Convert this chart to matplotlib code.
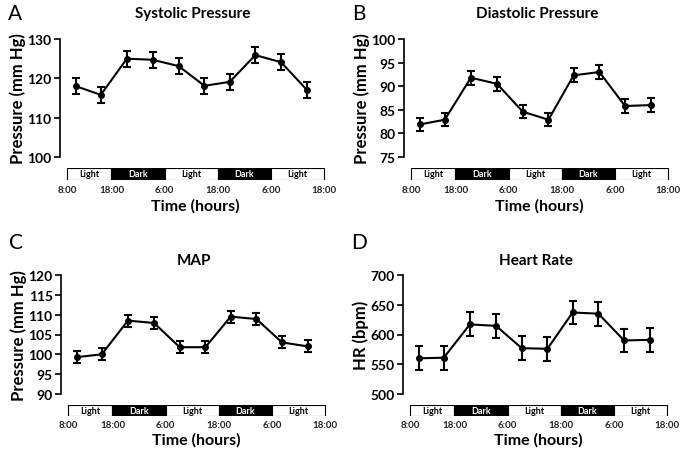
import matplotlib
matplotlib.use("Agg")
import matplotlib.pyplot as plt
from matplotlib.patches import Rectangle

plt.rcParams['font.family'] = ['Lato', 'DejaVu Sans']

# sample times (h after 8:00 on day 1) and light/dark schedule
hours = [2.0, 7.6, 13.5, 19.4, 25.2, 31.0, 36.7, 42.5, 48.3, 54.1]
phase_edges = [0, 10, 22, 34, 46, 58]
phase_names = ["Light", "Dark", "Light", "Dark", "Light"]
clock_labels = ["8:00", "18:00", "6:00", "18:00", "6:00", "18:00"]

sys_mean = [118, 115.8, 125, 124.7, 123.1, 118.1, 119.1, 125.9, 124.1, 117.1]
sys_err = [2, 2, 2, 2, 2, 2, 2, 2, 2, 2]
dia_mean = [81.9, 82.9, 91.8, 90.5, 84.6, 82.9, 92.3, 93.0, 85.8, 86.0]
dia_err = [1.4, 1.4, 1.5, 1.5, 1.4, 1.4, 1.5, 1.5, 1.5, 1.5]
map_mean = [99.3, 100.0, 108.5, 107.9, 101.8, 101.8, 109.5, 108.9, 103.0, 102.0]
map_err = [1.5, 1.5, 1.5, 1.5, 1.5, 1.5, 1.5, 1.5, 1.5, 1.5]
hr_mean = [560, 561, 617, 614.5, 577, 576, 637, 635, 590, 591]
hr_err = [20, 20, 20, 20, 20, 20, 20, 20, 20, 20]

panels = [
    ("A", "Systolic Pressure", "Pressure (mm Hg)", sys_mean, sys_err, (100, 130), [100, 110, 120, 130]),
    ("B", "Diastolic Pressure", "Pressure (mm Hg)", dia_mean, dia_err, (75, 100), [75, 80, 85, 90, 95, 100]),
    ("C", "MAP", "Pressure (mm Hg)", map_mean, map_err, (90, 120), [90, 95, 100, 105, 110, 115, 120]),
    ("D", "Heart Rate", "HR (bpm)", hr_mean, hr_err, (500, 700), [500, 550, 600, 650, 700]),
]

W, H = 680, 456
# left, top, bottom of plot area and bar top/bottom, in pixels
boxes = [(60, 40, 158, 169, 181), (404, 40, 158, 169, 181),
         (61, 276, 395, 406, 417), (403, 276, 395, 406, 417)]
xlim = (-1.6, 58.5)
px_per_h = 4.43

fig = plt.figure(figsize=(W / 100, H / 100), dpi=100)

for (letter, title, ylab, mean, err, ylim, yt), (l, t, b, bt, bb) in zip(panels, boxes):
    width = (xlim[1] - xlim[0]) * px_per_h
    ax = fig.add_axes([l / W, 1 - b / H, width / W, (b - t) / H])
    ax.errorbar(hours, mean, yerr=err, color='black', lw=1.5, marker='o', ms=4,
                capsize=3, capthick=1.5, elinewidth=1.5)
    ax.set_xlim(xlim)
    ax.set_ylim(ylim)
    ax.set_yticks(yt)
    for s in ['top', 'right', 'bottom']:
        ax.spines[s].set_visible(False)
    ax.spines['left'].set_linewidth(1.2)
    ax.set_xticks([])
    ax.tick_params(axis='y', length=4, width=1.2, labelsize=10, pad=2)
    for lbl in ax.get_yticklabels():
        lbl.set_fontweight('bold')
    ax.set_ylabel(ylab, fontsize=12, fontweight='bold', labelpad=1)
    ax.set_title(title, fontsize=11, fontweight='bold', pad=16 if letter in "AB" else 8)
    ax.patch.set_alpha(0)

    # light/dark bar
    bax = fig.add_axes([l / W, 1 - bb / H, width / W, (bb - bt) / H])
    bax.set_xlim(xlim)
    bax.set_ylim(0, 1)
    bax.axis('off')
    for i, name in enumerate(phase_names):
        x0, x1 = phase_edges[i], phase_edges[i + 1]
        dark = name == "Dark"
        bax.add_patch(Rectangle((x0, 0), x1 - x0, 1, facecolor='black' if dark else 'white',
                                edgecolor='black', lw=0.8))
        bax.text((x0 + x1) / 2, 0.5, name, ha='center', va='center', fontsize=6.5,
                 fontweight='bold', color='white' if dark else 'black')
    for x, lab in zip(phase_edges, clock_labels):
        bax.text(x, -0.4, lab, ha='center', va='top', fontsize=7, fontweight='bold',
                 color='#222222')
    bax.text((phase_edges[0] + phase_edges[-1]) / 2, -1.5, "Time (hours)", ha='center',
             va='top', fontsize=11.5, fontweight='bold')

    # panel letter
    fig.text((l - 52) / W, 1 - (t - 26) / H if letter in "AB" else 1 - (t - 33) / H,
             letter, fontsize=15, ha='left', va='center')

fig.savefig("out.png", dpi=100)
